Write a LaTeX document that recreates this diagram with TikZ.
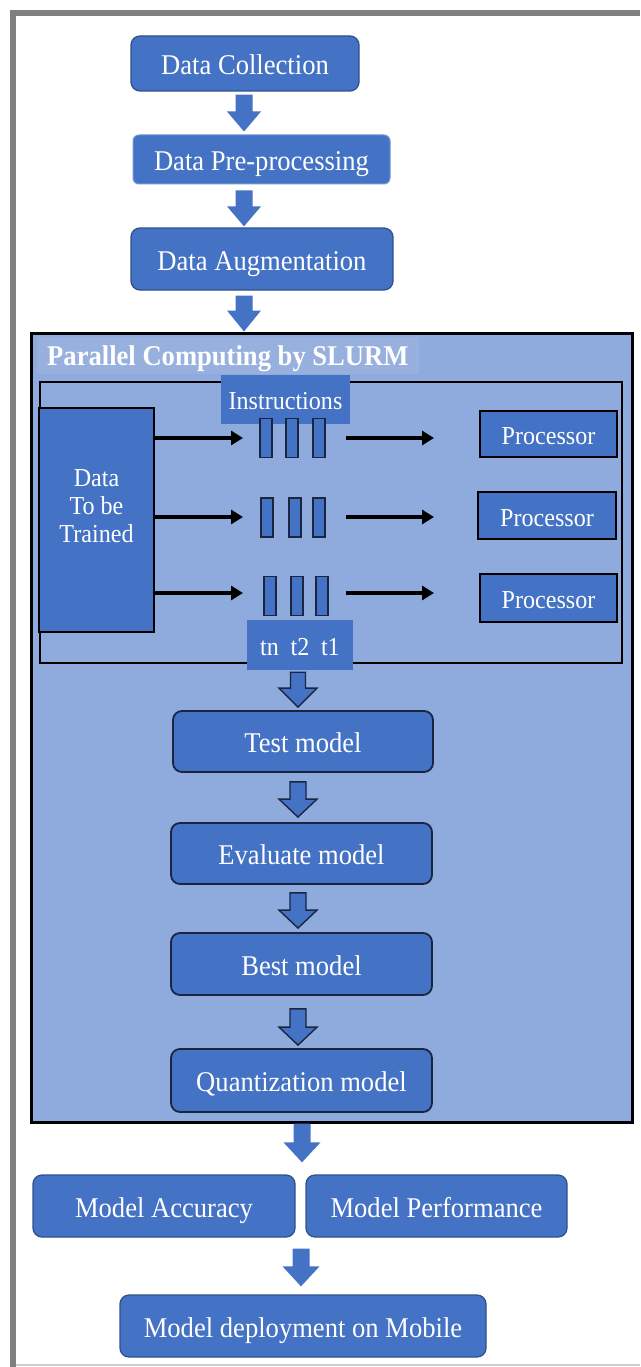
\documentclass[tikz,border=0pt]{standalone}
\usepackage{fontspec}
\setmainfont{Liberation Serif}[FakeStretch=0.93]
\usetikzlibrary{calc,arrows.meta}
\definecolor{boxblue}{HTML}{4472C4}
\definecolor{boxedge}{HTML}{2F528F}
\definecolor{darkedge}{HTML}{1A2540}
\definecolor{slurmbg}{HTML}{8FAADC}
\definecolor{titlebg}{HTML}{98B0DE}
\definecolor{framegray}{HTML}{808080}
\newcommand{\bigtxt}{\fontsize{28.6}{31}\selectfont}
\newcommand{\smalltxt}{\fontsize{25.9}{28}\selectfont}
\newcommand{\blockarrow}[6]{%
  \path[#1] let \p1=#2, \p2=#3 in
    (\x1-#4,\y1) -- (\x1+#4,\y1) -- (\x1+#4,\y2+#6) -- (\x1+#5,\y2+#6) --
    (\x1,\y2) -- (\x1-#5,\y2+#6) -- (\x1-#4,\y2+#6) -- cycle;}
\begin{document}
\begin{tikzpicture}[x=1pt,y=-1pt,
  rbox/.style={rectangle,rounded corners=9pt,fill=boxblue,draw=boxedge,line width=1.3pt,text=white,font=\bigtxt,inner sep=0pt,text height=22pt,text depth=0pt},
  ibox/.style={rbox,draw=darkedge,line width=1.8pt},
  pbox/.style={rectangle,fill=boxblue,draw=black,line width=1.6pt,text=white,font=\smalltxt,inner sep=0pt,text height=21pt,text depth=0pt},
  lbox/.style={rectangle,fill=boxblue,text=white,font=\smalltxt,inner sep=0pt,text height=19pt,text depth=0pt},
  bar/.style={rectangle,fill=boxblue,draw=darkedge,line width=1.6pt,minimum width=12.5pt,minimum height=39pt,inner sep=0pt},
  harrow/.style={line width=3.5pt,-{Triangle[length=12pt,width=14pt]}},
  flatarrow/.style={fill=boxblue},
  outarrow/.style={fill=boxblue,draw=darkedge,line width=1.4pt,line join=miter},
]
\useasboundingbox (0,0) rectangle (640,1367);
\fill[white] (0,0) rectangle (640,1367);
% outer frame
\draw[framegray,line width=6pt] (13,1367) -- (13,13) -- (640,13);
\draw[black!20,line width=2pt] (16,1365) -- (640,1365);

% top flow
\node[rbox,minimum width=228pt,minimum height=55pt] (dc) at (245,63.5) {Data Collection};
\node[rbox,draw=boxblue!75!white,line width=1pt,rounded corners=6pt,minimum width=257pt,minimum height=49pt] (dp) at (261.5,159.5) {Data Pre-processing};
\node[rbox,minimum width=262pt,minimum height=62pt] (da) at (262,259) {Data Augmentation};

% SLURM container
\node[draw=black,line width=3pt,fill=slurmbg,minimum width=601pt,minimum height=789pt,inner sep=0pt] (slurm) at (331.5,727.5) {};
\node[anchor=west,fill=titlebg,text=white,font=\bigtxt\bfseries,inner xsep=10pt,inner ysep=0pt,minimum height=37pt,text height=20pt,text depth=0pt] (title) at (37,355.5) {Parallel Computing by SLURM};
\node[draw=black,line width=2pt,minimum width=582pt,minimum height=281pt,inner sep=0pt] (inner) at (331,522.5) {};

\coordinate (ax) at (244,0);
\blockarrow{flatarrow}{($(ax|-dc.south)+(0,3)$)}{($(ax|-dp.north)+(0,-3)$)}{8.5pt}{17pt}{20pt}
\blockarrow{flatarrow}{($(ax|-dp.south)+(0,6)$)}{($(ax|-da.north)+(0,-1)$)}{8.5pt}{17pt}{20pt}
\blockarrow{flatarrow}{($(ax|-da.south)+(0,5)$)}{($(ax|-slurm.north)+(0,0)$)}{8.5pt}{17pt}{21pt}

% data + instructions
\node[pbox,minimum width=115pt,minimum height=224pt] (data) at (96.5,520) {};
\node[text=white,font=\smalltxt,align=center,inner sep=0pt] (datatxt) at (96.5,506) {Data\\To be\\Trained};
\node[lbox,minimum width=129pt,minimum height=49pt] (instr) at (285.5,399.5) {Instructions};

% instruction bars
\node[bar] (b11) at (266,438) {};
\node[bar] (b12) at (292,438) {};
\node[bar] (b13) at (319,438) {};
\node[bar] (b21) at (267,517.5) {};
\node[bar] (b22) at (295,517.5) {};
\node[bar] (b23) at (319,517.5) {};
\node[bar] (b31) at (270,596) {};
\node[bar] (b32) at (297,596) {};
\node[bar] (b33) at (322,596) {};

% processors
\node[pbox,minimum width=137pt,minimum height=46pt] (p1) at (548.5,434) {Processor};
\node[pbox,minimum width=138pt,minimum height=47pt] (p2) at (547,515.5) {Processor};
\node[pbox,minimum width=137pt,minimum height=48pt] (p3) at (548.5,598) {Processor};

% horizontal arrows
\coordinate (l1e) at (243,438);
\coordinate (l2e) at (243,517);
\coordinate (l3e) at (243,593);
\coordinate (r1s) at (346,438);
\coordinate (r1e) at (434,438);
\coordinate (r2s) at (346,517);
\coordinate (r2e) at (434,517);
\coordinate (r3s) at (346,593);
\coordinate (r3e) at (434,593);
\draw[harrow] (data.east |- l1e) -- (l1e);
\draw[harrow] (data.east |- l2e) -- (l2e);
\draw[harrow] (data.east |- l3e) -- (l3e);
\draw[harrow] (r1s) -- (r1e);
\draw[harrow] (r2s) -- (r2e);
\draw[harrow] (r3s) -- (r3e);

% time labels
\node[lbox,minimum width=106pt,minimum height=50pt,text height=20pt] (tn) at (300,645) {tn\hspace{0.45em}t2\hspace{0.45em}t1};

% model flow
\node[ibox,minimum width=260pt,minimum height=61pt] (test) at (303,741.5) {Test model};
\node[ibox,minimum width=261pt,minimum height=61pt] (eval) at (301.5,853.5) {Evaluate model};
\node[ibox,minimum width=261pt,minimum height=62pt] (best) at (301.5,964) {Best model};
\node[ibox,minimum width=261pt,minimum height=63pt] (quant) at (301.5,1080.5) {Quantization model};

\coordinate (bx) at (298,0);
\blockarrow{outarrow}{($(bx|-tn.south)+(0,2)$)}{($(bx|-test.north)+(0,-3)$)}{7.5pt}{19pt}{19pt}
\blockarrow{outarrow}{($(bx|-test.south)+(0,9)$)}{($(bx|-eval.north)+(0,-5)$)}{8pt}{19pt}{18pt}
\blockarrow{outarrow}{($(bx|-eval.south)+(0,8)$)}{($(bx|-best.north)+(0,-4)$)}{8pt}{19pt}{18pt}
\blockarrow{outarrow}{($(bx|-best.south)+(0,13)$)}{($(bx|-quant.north)+(0,-3)$)}{8pt}{19pt}{18pt}

% bottom flow
\node[rbox,minimum width=262pt,minimum height=62pt] (acc) at (164,1206) {Model Accuracy};
\node[rbox,minimum width=261pt,minimum height=62pt] (perf) at (436.5,1206) {Model Performance};
\node[rbox,minimum width=366pt,minimum height=62pt] (mob) at (303,1326) {Model deployment on Mobile};

\coordinate (cx) at (302,0);
\coordinate (dx) at (301,0);
\blockarrow{flatarrow}{($(cx|-slurm.south)+(0,0)$)}{($(cx|-acc.north)+(0,-12)$)}{8.5pt}{18.5pt}{20pt}
\blockarrow{flatarrow}{($(dx|-acc.south)+(0,11)$)}{($(dx|-mob.north)+(0,-8)$)}{8.5pt}{18.5pt}{20pt}
\end{tikzpicture}
\end{document}
